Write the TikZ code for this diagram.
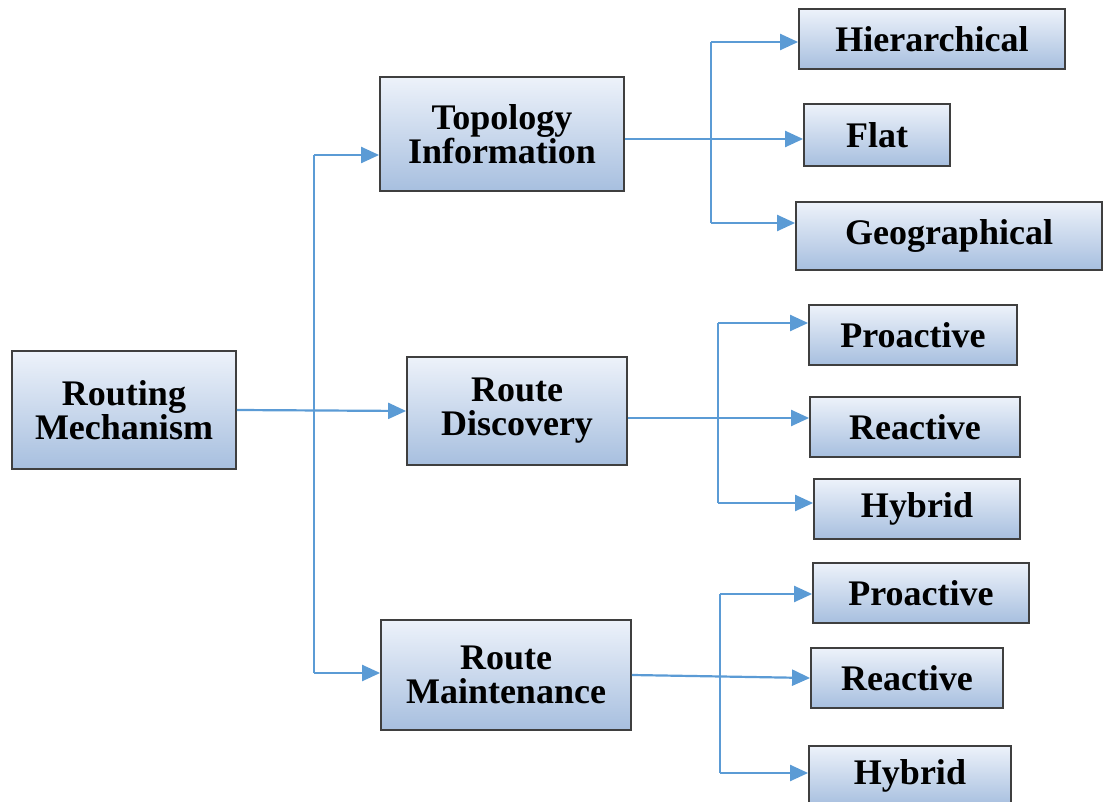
\documentclass[tikz,border=0pt]{standalone}
\usepackage{fontspec}
\setmainfont{Liberation Serif}
\usetikzlibrary{arrows.meta}

\definecolor{linkblue}{HTML}{5B9BD5}
\definecolor{boxtop}{HTML}{EDF2FA}
\definecolor{boxbot}{HTML}{A7BFDF}
\definecolor{boxline}{HTML}{3F3F3F}

\tikzset{
  box/.style={draw=boxline, line width=0.9pt, top color=boxtop, bottom color=boxbot,
    align=center, inner sep=0pt, font=\fontsize{18}{17}\selectfont\bfseries},
  leaf/.style={box, minimum height=30pt},
  trunk/.style={draw=linkblue, line width=1.1pt},
  link/.style={trunk, -{Triangle[length=9pt,width=8pt]}}
}

\begin{document}
\begin{tikzpicture}[x=0.5pt,y=-0.5pt]
\useasboundingbox (0,0) rectangle (1105,802);

\node[box, minimum width=112pt, minimum height=59pt](rm) at (124,410){Routing\\Mechanism};
\node[box, minimum width=122pt, minimum height=57pt](ti) at (502,134){Topology\\Information};
\node[box, minimum width=110pt, minimum height=54pt](rd) at (517,411){Route\\Discovery};
\node[box, minimum width=125pt, minimum height=55pt](mt) at (506,675){Route\\Maintenance};

\node[leaf, minimum width=133pt](hi) at (932,39){Hierarchical};
\node[leaf, minimum width=73pt, minimum height=31pt](fl) at (877,135){Flat};
\node[leaf, minimum width=153pt, minimum height=34pt](ge) at (949,236){Geographical};

\node[leaf, minimum width=104pt](pr1) at (913,335){Proactive};
\node[leaf, minimum width=105pt](re1) at (915,427){Reactive};
\node[leaf, minimum width=103pt](hy1) at (917,509){Hybrid};

\node[leaf, minimum width=108pt](pr2) at (921,593){Proactive};
\node[leaf, minimum width=96pt](re2) at (907,678){Reactive};
\node[leaf, minimum width=101pt](hy2) at (910,776){Hybrid};

% main trunk
\coordinate (t1) at (314,155);
\coordinate (t3) at (314,673);
\draw[trunk] (t1) -- (t3);
\draw[link] (t1) -- (t1 -| ti.west);
\draw[link] (rm.east) -- (rd.west);
\draw[link] (t3) -- (t3 -| mt.west);

% topology
\coordinate (a1) at (711,42);
\coordinate (a2) at (711,223);
\coordinate (a0) at (711,139);
\draw[trunk] (a1) -- (a2);
\draw[link] (a1) -- (a1 -| hi.west);
\draw[link] (a0 -| ti.east) -- (a0 -| fl.west);
\draw[link] (a2) -- (a2 -| ge.west);

% discovery
\coordinate (b1) at (718,323);
\coordinate (b2) at (718,503);
\coordinate (b0) at (718,418);
\draw[trunk] (b1) -- (b2);
\draw[link] (b1) -- (b1 -| pr1.west);
\draw[link] (b0 -| rd.east) -- (b0 -| re1.west);
\draw[link] (b2) -- (b2 -| hy1.west);

% maintenance
\coordinate (c1) at (720,594);
\coordinate (c2) at (720,773);
\draw[trunk] (c1) -- (c2);
\draw[link] (c1) -- (c1 -| pr2.west);
\draw[link] (mt.east) -- (re2.west);
\draw[link] (c2) -- (c2 -| hy2.west);
\end{tikzpicture}
\end{document}
